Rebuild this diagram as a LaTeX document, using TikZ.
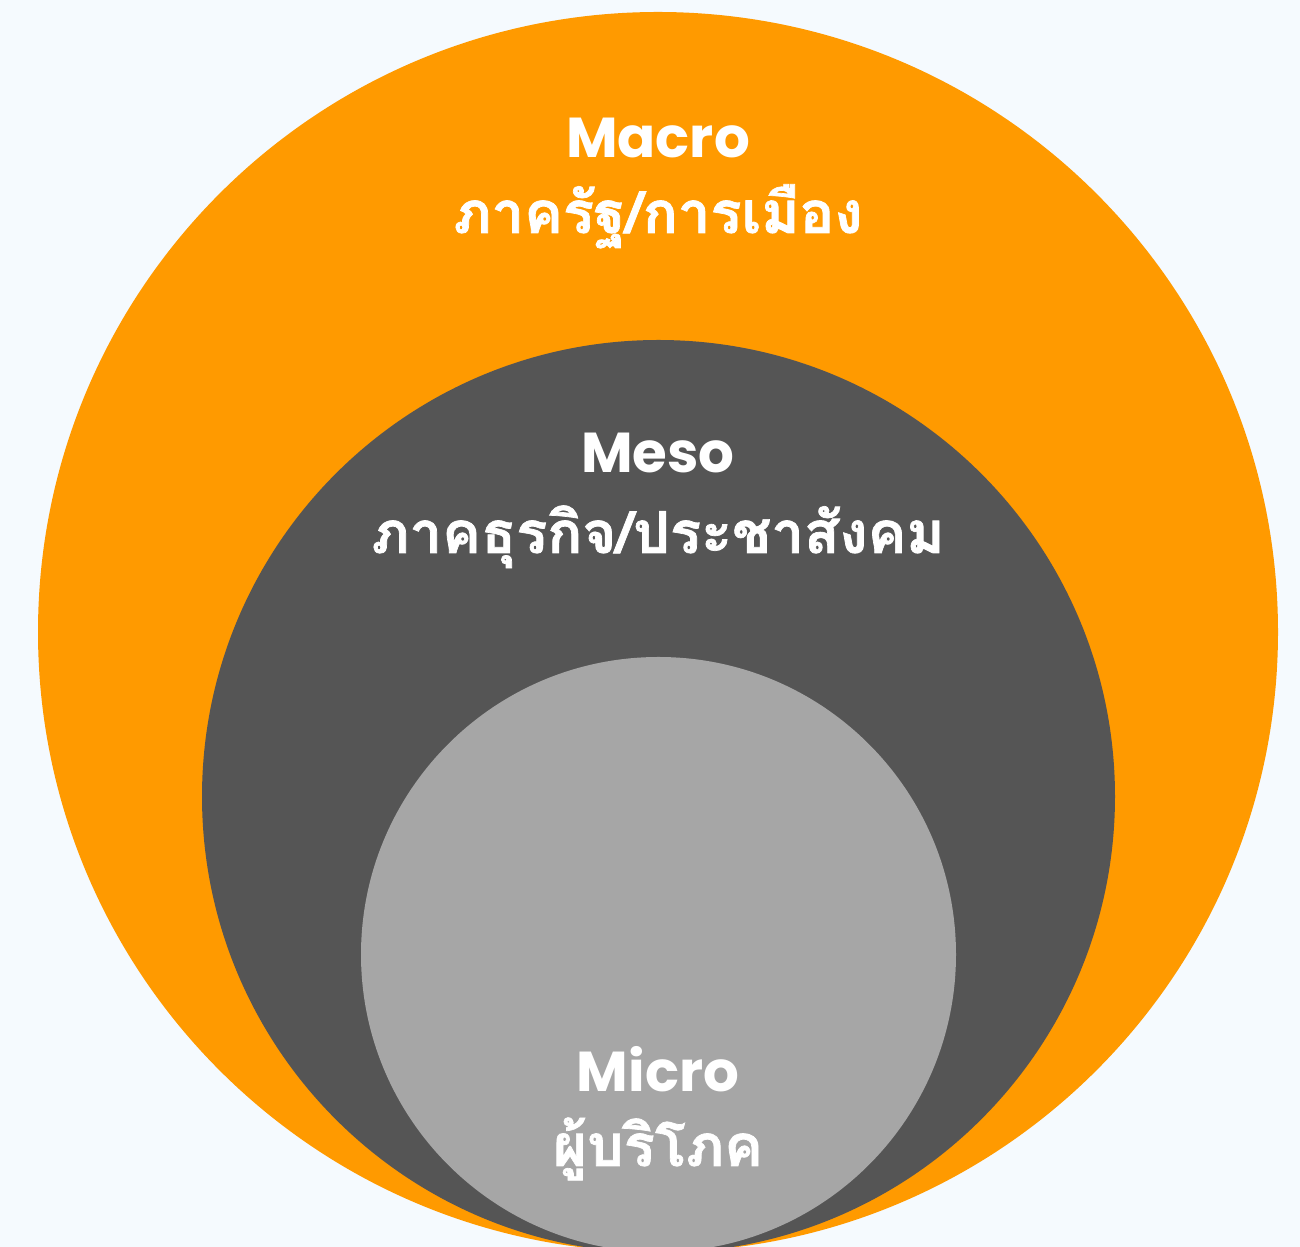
\documentclass[tikz,border=0pt]{standalone}
\usepackage{fontspec}
\setmainfont{Poppins}
\newfontfamily\thaifont[Script=Thai, Scale=1.03, BoldFeatures={FakeBold=1.2}]{Loma}
\definecolor{bgblue}{HTML}{F5FAFE}
\definecolor{macroorange}{HTML}{FF9A00}
\definecolor{mesogray}{HTML}{555555}
\definecolor{microgray}{HTML}{A6A6A6}
\begin{document}
\begin{tikzpicture}[scale = 1]
    \useasboundingbox (0,0) rectangle (26,24.94);
    \fill [color=bgblue] (0,0) rectangle (26,24.94);
    \clip(0,0) rectangle (26,24.94);
    \fill [color=macroorange] (13.16,12.30) circle (12.40cm);
    \fill [color=mesogray] (13.17,9.01) circle (9.13cm);
    \fill [color=microgray] (13.17,5.85) circle (5.95cm);
    \begin{scope}[every node/.style={anchor=base, text=white, font=\fontsize{32}{38}\selectfont\bfseries}]
        \draw (13.16,21.78) node (macro) {Macro};
        \draw (13.16,20.28) node (macroth) {\thaifont ภาครัฐ/การเมือง};
        \draw (13.16,15.48) node (meso) {Meso};
        \draw (13.16,13.88) node (mesoth) {\thaifont ภาคธุรกิจ/ประชาสังคม};
        \draw (13.16,3.10) node (micro) {Micro};
        \draw (13.16,1.62) node (microth) {\thaifont ผู้บริโภค};
    \end{scope}
\end{tikzpicture}
\end{document}
